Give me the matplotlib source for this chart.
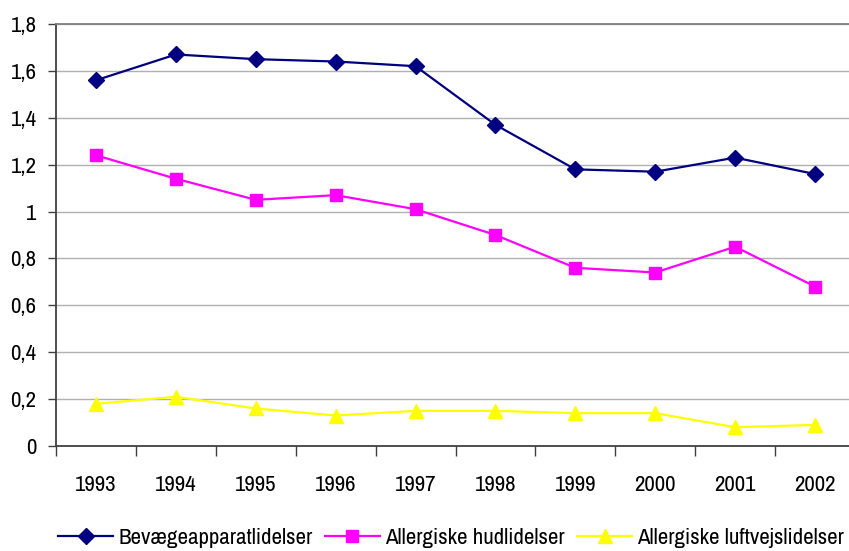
import matplotlib
matplotlib.use("Agg")
import matplotlib.pyplot as plt
from matplotlib import font_manager
import numpy as np

years = ["1993", "1994", "1995", "1996", "1997", "1998", "1999", "2000", "2001", "2002"]
bevaege = [1.56, 1.67, 1.65, 1.64, 1.62, 1.37, 1.18, 1.17, 1.23, 1.16]
hud = [1.24, 1.14, 1.05, 1.07, 1.01, 0.90, 0.76, 0.74, 0.85, 0.68]
luft = [0.18, 0.21, 0.16, 0.13, 0.15, 0.15, 0.14, 0.14, 0.08, 0.09]
series_names = ["Bevægeapparatlidelser", "Allergiske hudlidelser", "Allergiske luftvejslidelser"]
ytick_vals = [0, 0.2, 0.4, 0.6, 0.8, 1.0, 1.2, 1.4, 1.6, 1.8]
ytick_labels = ["0", "0,2", "0,4", "0,6", "0,8", "1", "1,2", "1,4", "1,6", "1,8"]

names = {f.name for f in font_manager.fontManager.ttflist}
fam = [f for f in ["Archivo Narrow", "Liberation Sans", "DejaVu Sans"] if f in names]
plt.rcParams["font.family"] = fam

FS = 16.5
W, H = 849, 551
fig = plt.figure(figsize=(W / 100, H / 100), dpi=100)
left, right, top, bottom = 56, 855, 24, 446
ax = fig.add_axes([left / W, 1 - bottom / H, (right - left) / W, (bottom - top) / H])

x = np.arange(len(years))
ax.plot(x, bevaege, color="#000080", lw=1.6, marker="D", ms=8, label=series_names[0])
ax.plot(x, hud, color="#FF00FF", lw=1.6, marker="s", ms=8.5, label=series_names[1])
ax.plot(x, luft, color="#FFFF00", lw=1.6, marker="^", ms=10, label=series_names[2])

ax.set_xlim(-0.5, len(years) - 0.5)
ax.set_ylim(0, 1.8)
ax.set_yticks(ytick_vals)
ax.set_yticklabels(ytick_labels, fontsize=FS)
ax.yaxis.grid(True, color="#b0b0b0", lw=1)
ax.set_axisbelow(True)

ax.set_xticks(np.arange(-0.5, len(years), 1.0))
ax.set_xticklabels([])
ax.set_xticks(x, minor=True)
ax.set_xticklabels(years, minor=True, fontsize=FS)
ax.tick_params(axis="x", which="major", length=7, width=1, color="#404040", direction="out")
ax.tick_params(axis="x", which="minor", length=0, pad=21)
ax.tick_params(axis="y", length=6, width=1, color="#404040", pad=8)

for s in ["left", "bottom"]:
    ax.spines[s].set_color("#404040")
    ax.spines[s].set_linewidth(1.3)
ax.spines["top"].set_color("#808080")
ax.spines["top"].set_linewidth(1.3)
ax.spines["right"].set_visible(False)

fig.legend(loc="center left", bbox_to_anchor=(58 / W, 1 - 538 / H), ncol=3, frameon=False,
           fontsize=FS, handlelength=2.4, columnspacing=0.55, handletextpad=0.22,
           borderpad=0, borderaxespad=0)

fig.savefig("out.png", dpi=100)
